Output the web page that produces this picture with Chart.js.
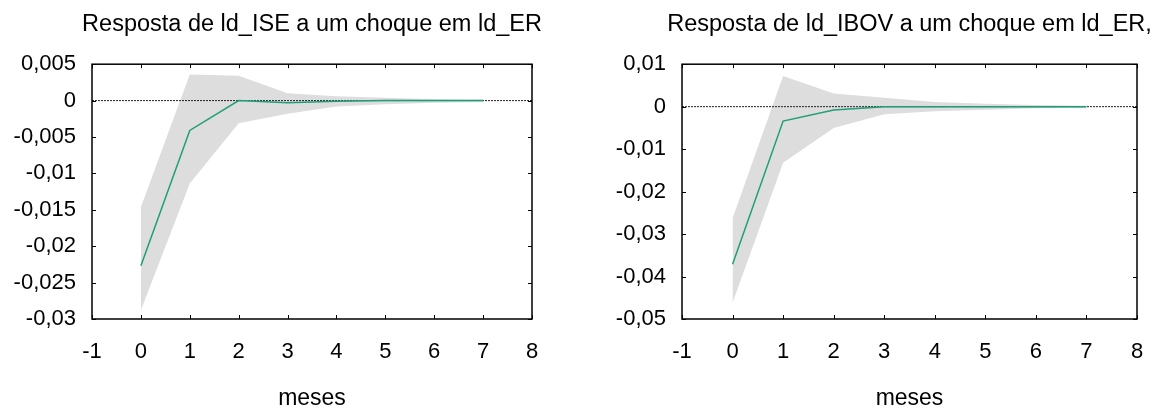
<!DOCTYPE html>
<html>
<head>
<meta charset="utf-8">
<script src="https://cdn.jsdelivr.net/npm/chart.js@4.4.0/dist/chart.umd.min.js"></script>
<style>
  html, body { margin: 0; padding: 0; background: #fff; }
  body { width: 1158px; height: 409px; position: relative; overflow: hidden; }
  canvas { position: absolute; top: 0; }
  #ise { left: 0; }
  #ibov { left: 590px; }
</style>
</head>
<body>
<canvas id="ise" width="624" height="409"></canvas>
<canvas id="ibov" width="639" height="409"></canvas>
<script>
// horizonte (meses)
var meses = [0, 1, 2, 3, 4, 5, 6, 7];
var xTicks = [-1, 0, 1, 2, 3, 4, 5, 6, 7, 8];

// resposta de ld_ISE a um choque em ld_ER
var iseResp  = [-0.0227, -0.0041, 0.0000, -0.0003, -0.0001, 0, 0, 0];
var iseUpper = [-0.0146, 0.0036, 0.0034, 0.0010, 0.0006, 0.0004, 0.0002, 0.0001];
var iseLower = [-0.0288, -0.0114, -0.0031, -0.0018, -0.0008, -0.0005, -0.0003, -0.0002];
var iseYTicks = [0.005, 0, -0.005, -0.01, -0.015, -0.02, -0.025, -0.03];

// resposta de ld_IBOV a um choque em ld_ER
var ibovResp  = [-0.0371, -0.0034, -0.0008, 0.0000, 0, 0, 0, 0];
var ibovUpper = [-0.0263, 0.0072, 0.0031, 0.0021, 0.0011, 0.0007, 0.0004, 0.0002];
var ibovLower = [-0.0462, -0.0132, -0.0050, -0.0018, -0.0011, -0.0007, -0.0004, -0.0002];
var ibovYTicks = [0.01, 0, -0.01, -0.02, -0.03, -0.04, -0.05];

var FONT = "'Liberation Sans', Arial, sans-serif";

// moldura gnuplot: caixa, ticks para dentro, linha do zero pontilhada
var frame = {
  id: 'frame',
  afterDatasetDraw: function (chart, args) {
    if (args.index !== 1) return;
    var a = chart.chartArea, ctx = chart.ctx;
    var y0 = chart.scales.y.getPixelForValue(0);
    ctx.save();
    ctx.strokeStyle = '#222';
    ctx.lineWidth = 1;
    ctx.setLineDash([2, 1]);
    ctx.beginPath();
    ctx.moveTo(a.left, y0);
    ctx.lineTo(a.right, y0);
    ctx.stroke();
    ctx.restore();
  },
  afterDraw: function (chart) {
    var a = chart.chartArea, ctx = chart.ctx, t = 4;
    var sx = chart.scales.x, sy = chart.scales.y;
    ctx.save();
    ctx.strokeStyle = '#000';
    ctx.lineWidth = 1;
    ctx.beginPath();
    sx.ticks.forEach(function (tk) {
      var px = Math.round(sx.getPixelForValue(tk.value)) + 0.5;
      ctx.moveTo(px, a.bottom); ctx.lineTo(px, a.bottom - t);
      ctx.moveTo(px, a.top); ctx.lineTo(px, a.top + t);
    });
    sy.ticks.forEach(function (tk) {
      var py = Math.round(sy.getPixelForValue(tk.value)) + 0.5;
      ctx.moveTo(a.left, py); ctx.lineTo(a.left + t, py);
      ctx.moveTo(a.right, py); ctx.lineTo(a.right - t, py);
    });
    ctx.stroke();
    ctx.lineWidth = 1.5;
    ctx.strokeRect(a.left, a.top, a.right - a.left, a.bottom - a.top);
    ctx.restore();
  }
};

function pts(vals) {
  return meses.map(function (m, i) { return { x: m, y: vals[i] }; });
}

function fmt(v) {
  return String(Number(v.toFixed(4))).replace('.', ',');
}

function makeChart(id, title, resp, upper, lower, yTicks) {
  return new Chart(document.getElementById(id), {
    type: 'line',
    data: {
      datasets: [
        { data: pts(resp), borderColor: '#1f9f77', borderWidth: 1.5, pointRadius: 0, fill: false, tension: 0 },
        { data: pts(upper), borderWidth: 0, borderColor: 'rgba(0,0,0,0)', pointRadius: 0,
          fill: '+1', backgroundColor: '#dddddd', tension: 0 },
        { data: pts(lower), borderWidth: 0, borderColor: 'rgba(0,0,0,0)', pointRadius: 0, fill: false, tension: 0 }
      ]
    },
    options: {
      responsive: false,
      animation: false,
      layout: { padding: 0 },
      plugins: {
        legend: { display: false },
        tooltip: { enabled: false },
        title: {
          display: true, text: title, color: '#000',
          font: { family: FONT, size: 23.5, weight: 'normal' },
          padding: { top: 10, bottom: 26 }
        }
      },
      scales: {
        x: {
          type: 'linear', min: xTicks[0], max: xTicks[xTicks.length - 1],
          afterBuildTicks: function (s) { s.ticks = xTicks.map(function (v) { return { value: v }; }); },
          afterFit: function (s) { s.height = 90; },
          grid: { display: false, drawTicks: false },
          border: { display: false },
          ticks: { color: '#000', font: { family: FONT, size: 22 }, padding: 20, maxRotation: 0, autoSkip: false },
          title: { display: true, text: 'meses', color: '#000', font: { family: FONT, size: 23, lineHeight: 1 }, padding: { top: 0, bottom: -1 } }
        },
        y: {
          min: yTicks[yTicks.length - 1], max: yTicks[0],
          afterBuildTicks: function (s) { s.ticks = yTicks.map(function (v) { return { value: v }; }); },
          afterFit: function (s) { s.width = 92; },
          grid: { display: false, drawTicks: false },
          border: { display: false },
          ticks: { color: '#000', font: { family: FONT, size: 22 }, padding: 16, callback: fmt }
        },
        // eixo vazio a direita: reserva o mesmo espaco que o eixo y, para centrar o titulo
        yR: {
          position: 'right',
          afterFit: function (s) { s.width = 92; },
          grid: { display: false, drawTicks: false },
          border: { display: false },
          ticks: { display: false }
        }
      }
    },
    plugins: [frame]
  });
}

makeChart('ise', 'Resposta de ld_ISE a um choque em ld_ER', iseResp, iseUpper, iseLower, iseYTicks);
makeChart('ibov', 'Resposta de ld_IBOV a um choque em ld_ER,', ibovResp, ibovUpper, ibovLower, ibovYTicks);
</script>
</body>
</html>
